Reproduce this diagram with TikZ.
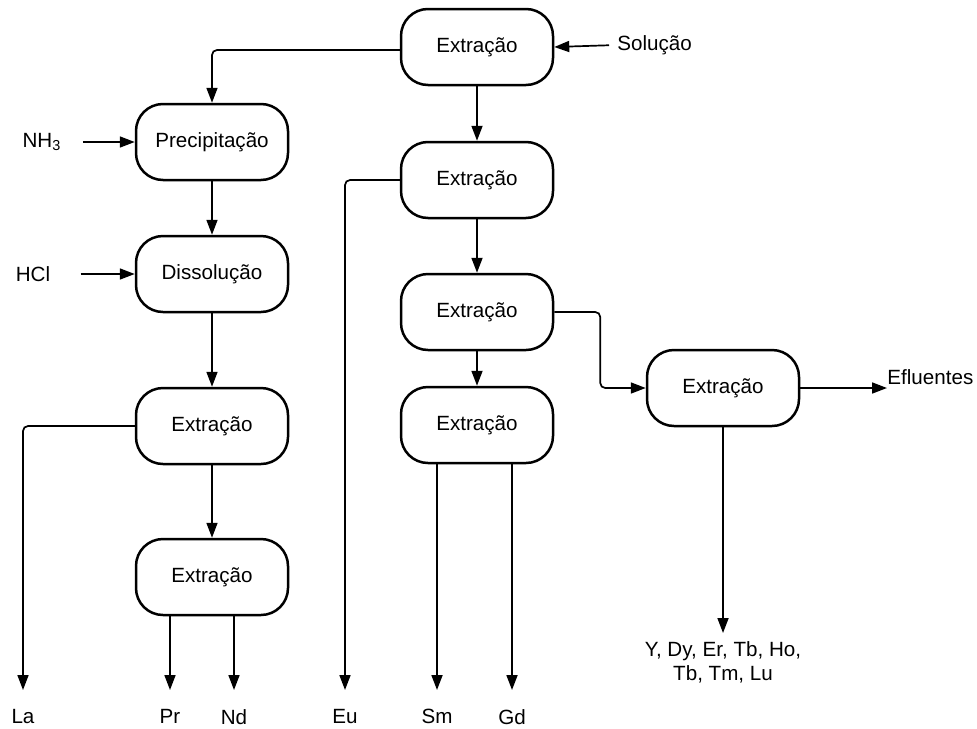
\documentclass[tikz,border=0pt]{standalone}
\usepackage{fontspec}
\setmainfont{Liberation Sans}
\usetikzlibrary{arrows.meta}

\newlength{\du}
\setlength{\du}{0.5pt}

\tikzset{
  etapa/.style={draw, line width=1.25pt, rounded corners=13.5pt,
    minimum width=152\du, minimum height=76\du, inner sep=0pt},
  fluxo/.style={line width=0.85pt, rounded corners=2.5pt,
    -{Triangle[length=7.5pt,width=5.5pt]}},
  rotulo/.style={inner sep=0pt, align=center},
}

\begin{document}
\begin{tikzpicture}[font=\fontsize{10.3}{12.2}\selectfont]
\pgftransformxscale{1.000000}
\pgftransformyscale{-1.000000}
\definecolor{corlinha}{rgb}{0.000000, 0.000000, 0.000000}
\pgfsetstrokecolor{corlinha}
\useasboundingbox (0\du,0\du) rectangle (977\du,728\du);
% etapas
\node[etapa] (extr1) at (477\du,47\du){Extração};
\node[etapa] (precip) at (212\du,142\du){Precipitação};
\node[etapa] (dissol) at (212\du,274\du){Dissolução};
\node[etapa] (extr5) at (212\du,426\du){Extração};
\node[etapa] (extr6) at (212\du,577\du){Extração};
\node[etapa] (extr2) at (477\du,180\du){Extração};
\node[etapa] (extr3) at (477\du,312\du){Extração};
\node[etapa] (extr4) at (477\du,425\du){Extração};
\node[etapa] (extr7) at (723\du,388\du){Extração};
% entradas e produtos
\node[rotulo, anchor=west] (solucao) at (617\du,45\du){Solução};
\node[rotulo] (nh3) at (42\du,142\du){NH\textsubscript{3}};
\node[rotulo] (hcl) at (33\du,274\du){HCl};
\node[rotulo, anchor=west] (efluentes) at (887\du,377\du){Efluentes};
\node[rotulo, anchor=north] (la) at (23\du,709\du){La};
\node[rotulo, anchor=north] (pr) at (170\du,709\du){Pr};
\node[rotulo, anchor=north] (nd) at (234\du,709\du){Nd};
\node[rotulo, anchor=north] (eu) at (345\du,709\du){Eu};
\node[rotulo, anchor=north] (sm) at (437\du,709\du){Sm};
\node[rotulo, anchor=north] (gd) at (512\du,709\du){Gd};
\node[rotulo, anchor=north] (pesados) at (723\du,641\du){Y, Dy, Er, Tb, Ho,\\Tb, Tm, Lu};
% ligacoes
\draw[fluxo, shorten <=8\du] (solucao.west) -- (extr1.east);
\draw[fluxo] ([yshift=3\du]extr1.west) -| (precip.north);
\draw[fluxo] (extr1) -- (extr2);
\draw[fluxo] (extr2) -- (extr3);
\draw[fluxo] (extr3) -- (extr4);
\draw[fluxo, shorten <=21\du] (nh3.east) -- (precip.west);
\draw[fluxo, shorten <=30\du] (hcl.east) -- (dissol.west);
\draw[fluxo] (precip) -- (dissol);
\draw[fluxo] (dissol) -- (extr5);
\draw[fluxo] (extr5) -- (extr6);
\draw[fluxo, shorten >=19\du] (extr5.west) -| (la.north);
\draw[fluxo, shorten >=19\du] (extr6.south -| pr.north) -- (pr.north);
\draw[fluxo, shorten >=19\du] (extr6.south -| nd.north) -- (nd.north);
\draw[fluxo, shorten >=19\du] (extr2.west) -| (eu.north);
\draw[fluxo, shorten >=19\du] (extr4.south -| sm.north) -- (sm.north);
\draw[fluxo, shorten >=19\du] (extr4.south -| gd.north) -- (gd.north);
\draw[fluxo] (extr3.east) -- ++(46\du,0) |- (extr7.west);
\draw[fluxo] (extr7.east) -- (extr7.east -| efluentes.west);
\draw[fluxo, shorten >=8\du] (extr7.south) -- (pesados.north);
\end{tikzpicture}
\end{document}
